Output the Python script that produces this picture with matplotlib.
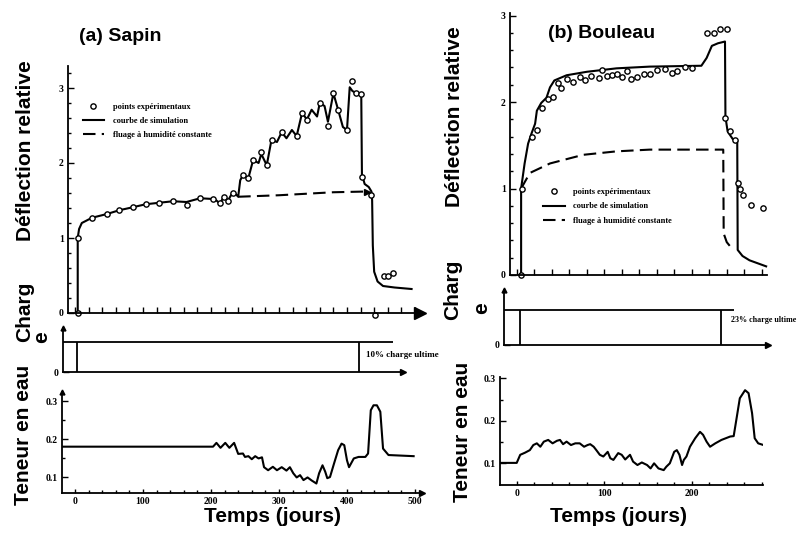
import numpy as np
import matplotlib
matplotlib.use("Agg")
import matplotlib.pyplot as plt
from matplotlib.ticker import MultipleLocator, FixedLocator, NullFormatter

# ---- data ----
# (a) Sapin : deflection
sapin_sim_days = [4, 4, 6, 10, 25, 47, 65, 85, 104, 124, 144, 164, 184, 203, 208, 213, 219, 225,
                  232, 237, 240, 243, 247, 255, 262, 270, 274, 282, 289, 297, 304, 311, 319, 326,
                  334, 341, 348, 356, 360, 367, 372, 380, 387, 394, 400, 404, 408, 414, 421, 422,
                  426, 432, 436, 437, 438, 440, 445, 453, 470, 495]
sapin_sim_vals = [0, 1.0, 1.12, 1.2, 1.27, 1.32, 1.37, 1.41, 1.45, 1.47, 1.49, 1.48, 1.53, 1.52, 1.5,
                  1.46, 1.55, 1.5, 1.61, 1.58, 1.55, 1.77, 1.84, 1.8, 2.04, 2.0, 2.12, 1.97, 2.31,
                  2.28, 2.41, 2.33, 2.44, 2.36, 2.67, 2.58, 2.71, 2.62, 2.8, 2.76, 2.55, 2.93, 2.71,
                  2.48, 2.44, 3.01, 2.96, 2.93, 2.92, 1.85, 1.72, 1.68, 1.62, 1.5, 0.9, 0.55, 0.42,
                  0.36, 0.34, 0.32]
sapin_pts_days = [4, 4, 25, 47, 65, 85, 104, 124, 144, 164, 184, 203, 213, 219, 225, 232, 247, 255,
                  262, 274, 282, 289, 304, 326, 334, 341, 360, 372, 380, 387, 400, 408, 414, 421,
                  422, 436, 455, 461, 467, 441]
sapin_pts_vals = [0, 1.0, 1.27, 1.32, 1.37, 1.41, 1.45, 1.47, 1.49, 1.44, 1.53, 1.52, 1.47, 1.55,
                  1.5, 1.6, 1.84, 1.8, 2.04, 2.15, 1.97, 2.31, 2.41, 2.36, 2.67, 2.58, 2.8, 2.5,
                  2.93, 2.71, 2.44, 3.1, 2.93, 2.92, 1.82, 1.58, 0.49, 0.5, 0.54, -0.03]
sapin_const_days = [240, 300, 380, 430]
sapin_const_vals = [1.55, 1.57, 1.61, 1.62]

# (a) Sapin : load and moisture
sapin_load_on, sapin_load_off, sapin_load_end = 3, 418, 468
sapin_load_text = "10% charge ultime"
sapin_mc_days = [-19, 203, 208, 214, 221, 227, 234, 240, 247, 250, 255, 260, 265, 270, 275, 278,
                 284, 291, 297, 304, 311, 316, 321, 326, 331, 336, 342, 348, 355, 359, 364, 368,
                 371, 375, 381, 387, 392, 396, 400, 403, 410, 417, 427, 431, 435, 439, 444, 449,
                 453, 461, 498]
sapin_mc_vals = [0.18, 0.18, 0.19, 0.177, 0.19, 0.177, 0.19, 0.161, 0.162, 0.153, 0.155, 0.147,
                 0.155, 0.149, 0.152, 0.126, 0.118, 0.127, 0.118, 0.126, 0.117, 0.126, 0.11, 0.099,
                 0.105, 0.092, 0.099, 0.091, 0.083, 0.11, 0.131, 0.114, 0.097, 0.1, 0.136, 0.171,
                 0.188, 0.184, 0.144, 0.126, 0.149, 0.153, 0.153, 0.162, 0.276, 0.289, 0.289,
                 0.272, 0.175, 0.158, 0.155]

# (b) Bouleau : deflection
bouleau_sim_days = [5, 5, 9, 13, 17, 21, 23, 28, 34, 38, 43, 57, 80, 114, 152, 211, 217, 223, 230,
                    238, 238.5, 241, 247, 252, 252.5, 258, 266, 285]
bouleau_sim_vals = [0, 1.0, 1.29, 1.52, 1.64, 1.75, 1.9, 1.99, 2.05, 2.17, 2.25, 2.31, 2.35, 2.39,
                    2.41, 2.42, 2.51, 2.65, 2.68, 2.7, 1.83, 1.66, 1.57, 1.55, 0.29, 0.22, 0.17, 0.1]
bouleau_pts_days = [5, 6, 17, 23, 29, 36, 41, 47, 51, 58, 64, 72, 78, 85, 94, 97, 103, 109, 115,
                    120, 126, 131, 137, 145, 152, 160, 170, 177, 183, 192, 200, 218, 226, 232, 240,
                    238, 244, 250, 253, 255, 259, 268, 281]
bouleau_pts_vals = [0, 1.0, 1.6, 1.68, 1.93, 2.03, 2.06, 2.22, 2.16, 2.27, 2.23, 2.29, 2.26, 2.3,
                    2.28, 2.37, 2.3, 2.31, 2.32, 2.29, 2.36, 2.27, 2.29, 2.33, 2.33, 2.37, 2.38,
                    2.34, 2.36, 2.4, 2.39, 2.8, 2.8, 2.84, 2.84, 1.81, 1.67, 1.56, 1.06, 0.99, 0.93,
                    0.81, 0.77]
bouleau_const_days = [5, 15, 38, 76, 114, 152, 236, 236.5, 240, 244]
bouleau_const_vals = [1.0, 1.18, 1.29, 1.39, 1.43, 1.45, 1.45, 0.48, 0.38, 0.33]

# (b) Bouleau : load and moisture
bouleau_load_on, bouleau_load_off, bouleau_load_end = 4, 233, 248
bouleau_load_text = "23% charge ultime"
bouleau_mc_days = [-19, 0, 4, 9.5, 15, 19, 23, 27, 31, 36, 41, 46, 49.5, 53, 57, 62, 67, 72, 77,
                   81, 84, 88, 91, 95, 99, 104, 107, 110.5, 116, 120, 124, 129.5, 133, 138, 143,
                   149, 153, 157, 162, 168, 171, 175, 180, 183, 186, 189, 191, 194, 198, 204,
                   209.5, 213, 217, 221, 227, 234, 244, 248, 251, 255, 261, 265, 269, 272, 276, 282]
bouleau_mc_vals = [0.101, 0.101, 0.12, 0.125, 0.131, 0.143, 0.147, 0.139, 0.151, 0.155, 0.147,
                   0.153, 0.155, 0.145, 0.151, 0.143, 0.147, 0.147, 0.139, 0.143, 0.145, 0.139,
                   0.131, 0.12, 0.116, 0.127, 0.112, 0.108, 0.124, 0.12, 0.109, 0.12, 0.104, 0.096,
                   0.102, 0.096, 0.088, 0.1, 0.088, 0.084, 0.092, 0.1, 0.127, 0.131, 0.12, 0.096,
                   0.108, 0.116, 0.139, 0.159, 0.174, 0.167, 0.151, 0.139, 0.147, 0.155, 0.163,
                   0.164, 0.202, 0.253, 0.272, 0.265, 0.218, 0.159, 0.147, 0.143]

legend_labels = ["points expérimentaux", "courbe de simulation", "fluage à humidité constante"]

# ---- figure ----
W, H = 800, 535
fig = plt.figure(figsize=(W / 100, H / 100), dpi=100)
fig.patch.set_facecolor("white")

SERIF = "Liberation Serif"
SANS = "Liberation Sans"
LW = 1.5


def add_ax(x0, x1, y0, y1):
    # pixel box (y measured from top) -> figure fraction
    return fig.add_axes([x0 / W, 1 - y1 / H, (x1 - x0) / W, (y1 - y0) / H])


def style(ax):
    for s in ["top", "right"]:
        ax.spines[s].set_visible(False)
    for s in ["left", "bottom"]:
        ax.spines[s].set_linewidth(1.3)
    ax.tick_params(which="both", direction="in", width=1.0, labelsize=7, pad=3)
    ax.tick_params(which="major", length=4)
    ax.tick_params(which="minor", length=2.5)
    for lab in ax.get_xticklabels() + ax.get_yticklabels():
        lab.set_fontfamily(SERIF)
        lab.set_fontweight("bold")
    ax.patch.set_alpha(0)


def arrow_x(ax, ms=6):
    ax.plot(1, 0, ">", color="k", ms=ms, transform=ax.transAxes, clip_on=False)


def arrow_y(ax, ms=4):
    ax.plot(0, 1, "^", color="k", ms=ms, transform=ax.transAxes, clip_on=False)


def deflection(ax, sim_d, sim_v, pts_d, pts_v, con_d, con_v, xlim, ylim, leg_anchor):
    sim, = ax.plot(sim_d, sim_v, "-", color="k", lw=LW, clip_on=False)
    con, = ax.plot(con_d, con_v, "--", color="k", lw=LW, dashes=(6, 3))
    pts, = ax.plot(pts_d, pts_v, "o", ls="none", ms=3.8, mfc="white", mec="k", mew=1.0,
                   clip_on=False)
    ax.set_xlim(*xlim)
    ax.set_ylim(*ylim)
    ax.xaxis.set_major_locator(MultipleLocator(20))
    ax.xaxis.set_major_formatter(NullFormatter())
    ax.tick_params(axis="x", length=2.5)
    ax.yaxis.set_major_locator(FixedLocator([0, 1, 2, 3]))
    ax.yaxis.set_minor_locator(MultipleLocator(0.2))
    style(ax)
    ax.legend([pts, sim, con], legend_labels, loc="upper left", bbox_to_anchor=leg_anchor,
              frameon=False, prop={"family": SERIF, "weight": "bold", "size": 6},
              handlelength=2.6, labelspacing=0.75, handletextpad=1.0)


def load(ax, on, off, end, xlim, ylim, text, tx, ty, fs):
    ax.hlines(1, xlim[0], end, color="k", lw=1.3)
    ax.vlines([on, off], 0, 1, color="k", lw=1.3)
    ax.set_xlim(*xlim)
    ax.set_ylim(*ylim)
    ax.set_xticks([])
    ax.set_yticks([0])
    ax.tick_params(axis="y", length=0)
    style(ax)
    ax.text(tx, ty, text, fontsize=fs, fontfamily=SERIF, fontweight="bold",
            va="center", ha="left", clip_on=False)
    arrow_x(ax, 4)
    arrow_y(ax, 3.5)


def moisture(ax, d, v, xlim, ylim, arrows):
    ax.plot(d, v, "-", color="k", lw=LW)
    ax.set_xlim(*xlim)
    ax.set_ylim(*ylim)
    ax.xaxis.set_major_locator(MultipleLocator(100))
    ax.xaxis.set_minor_locator(MultipleLocator(20))
    ax.yaxis.set_major_locator(FixedLocator([0.1, 0.2, 0.3]))
    ax.yaxis.set_minor_locator(FixedLocator([0.15, 0.25]))
    ax.set_yticklabels(["0.1", "0.2", "0.3"])
    style(ax)
    ax.tick_params(axis="x", which="major", length=3, pad=3)
    if arrows:
        arrow_x(ax, 4)
        arrow_y(ax, 3.5)


# (a) Sapin --- day -> px : 75 + 0.68*d
axA1 = add_ax(68, 420, 65.5, 313)
deflection(axA1, sapin_sim_days, sapin_sim_vals, sapin_pts_days, sapin_pts_vals,
           sapin_const_days, sapin_const_vals, (-10.3, 507.4), (0, 3.3), (0.02, 0.88))
axA1.plot(sapin_const_days[-1], sapin_const_vals[-1], ">", color="k", ms=4)
arrow_x(axA1, 8)

axA2 = add_ax(63, 403, 328, 372)
load(axA2, sapin_load_on, sapin_load_off, sapin_load_end, (-17.6, 482.4), (0, 1.467),
     sapin_load_text, 428, 0.57, 6.5)

axA3 = add_ax(62, 422, 392, 493)
moisture(axA3, sapin_mc_days, sapin_mc_vals, (-19.1, 510.3), (0.058, 0.324), True)

# (b) Bouleau --- day -> px : 516.7 + 0.875*d
axB1 = add_ax(510, 767, 13, 275)
deflection(axB1, bouleau_sim_days, bouleau_sim_vals, bouleau_pts_days, bouleau_pts_vals,
           bouleau_const_days, bouleau_const_vals, (-7.7, 286), (0, 3.03), (0.1, 0.36))

axB2 = add_ax(504, 768, 290, 345)
load(axB2, bouleau_load_on, bouleau_load_off, bouleau_load_end, (-14.5, 287.2), (0, 1.57),
     bouleau_load_text, 245, 0.71, 5.8)

axB3 = add_ax(500, 763, 377, 485)
moisture(axB3, bouleau_mc_days, bouleau_mc_vals, (-19.1, 281.5), (0.049, 0.303), False)

# ---- big labels ----
big = dict(fontfamily=SANS, fontweight="bold", fontsize=15, ha="center", va="center")
fig.text(26 / W, 1 - 151 / H, "Déflection relative", rotation=90, **big)
fig.text(25 / W, 1 - 312 / H, "Charg", rotation=90, **big)
fig.text(42 / W, 1 - 337 / H, "e", rotation=90, **big)
fig.text(24 / W, 1 - 435 / H, "Teneur en eau", rotation=90, **big)
fig.text(273 / W, 1 - 517 / H, "Temps (jours)", **big)
fig.text(120 / W, 1 - 37 / H, "(a) Sapin", fontfamily=SANS, fontweight="bold", fontsize=14,
         ha="center", va="center")

fig.text(455 / W, 1 - 117 / H, "Déflection relative", rotation=90, **big)
fig.text(453 / W, 1 - 290 / H, "Charg", rotation=90, **big)
fig.text(482 / W, 1 - 308 / H, "e", rotation=90, **big)
fig.text(463 / W, 1 - 432 / H, "Teneur en eau", rotation=90, **big)
fig.text(618 / W, 1 - 517 / H, "Temps (jours)", **big)
fig.text(602 / W, 1 - 33 / H, "(b) Bouleau", fontfamily=SANS, fontweight="bold", fontsize=14,
         ha="center", va="center")

fig.savefig("out.png", dpi=100)
